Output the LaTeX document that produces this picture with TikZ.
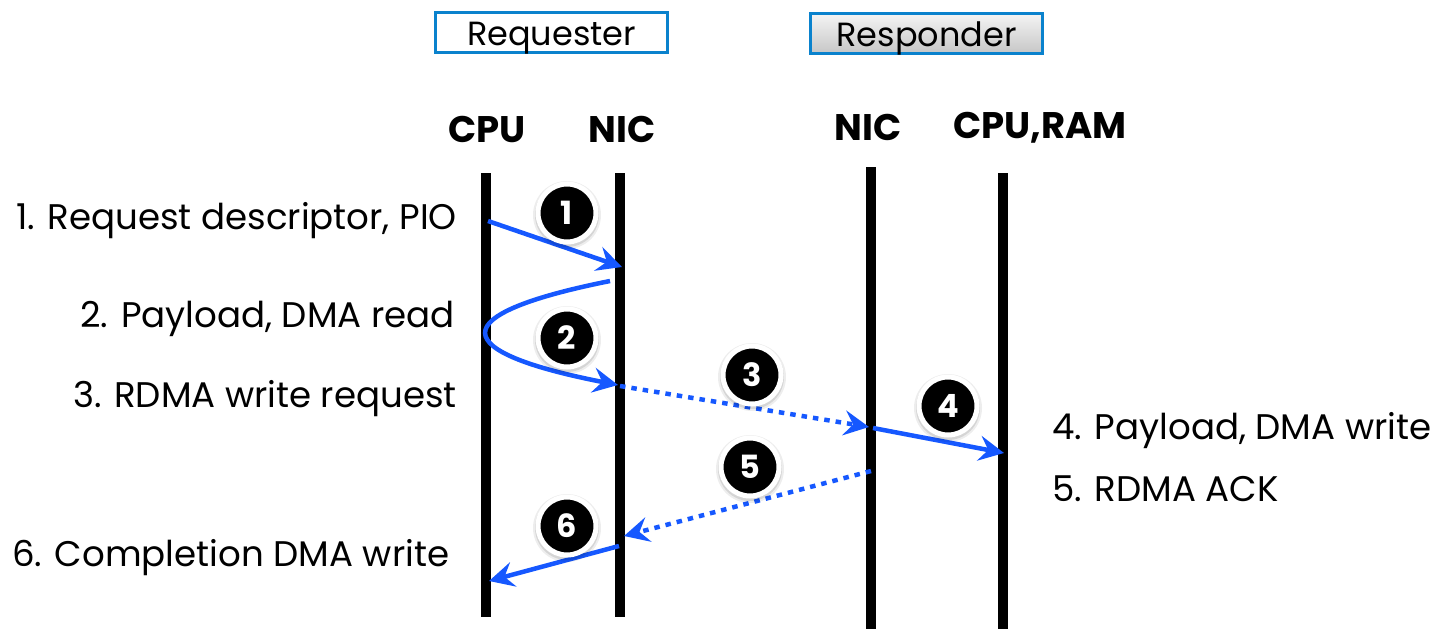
\documentclass[tikz,border=0pt]{standalone}
\usepackage{fontspec}
\setmainfont{Poppins}
\usetikzlibrary{arrows.meta}
\definecolor{flow}{RGB}{22,88,255}
\definecolor{frame}{RGB}{10,130,205}
\tikzset{
  lifeline/.style={line width=10pt},
  msg/.style={flow, line width=4.5pt, -{Stealth[length=25pt,width=25pt,inset=9pt]}},
  msgdot/.style={msg, dash pattern=on 5.5pt off 6pt},
  steplabel/.style={font=\fontsize{35.6}{40}\selectfont, inner sep=0pt},
  unitlabel/.style={font=\fontsize{37}{40}\selectfont\bfseries, inner sep=0pt, anchor=base},
  rolebox/.style={draw=frame, line width=3pt, minimum width=232pt, minimum height=40pt,
    font=\fontsize{33.5}{36}\selectfont, inner sep=0pt, text height=28pt, text depth=2pt},
  badge/.style={circle, fill=black, draw=white, line width=5pt, minimum size=58pt,
    text=white, font=\fontsize{32}{34}\selectfont\bfseries, inner sep=0pt},
}
\newcommand{\stepbadge}[3]{%
  \fill[black, opacity=0.10] (#1) ++(0,2) circle (32);
  \fill[black, opacity=0.07] (#1) ++(0,2) circle (34);
  \node[badge] (#2) at (#1) {#3};}
\begin{document}
\begin{tikzpicture}[x=1pt, y=-1pt]
\useasboundingbox (0,0) rectangle (1439,629);

% role boxes
\node[rolebox] (req) at (551.5,32) {Requester};
\node[rolebox, top color=white!96!black, bottom color=black!22] (resp) at (926.5,33) {Responder};

% unit headings
\node[unitlabel] (hcpu) at (487,142) {CPU};
\node[unitlabel] (hnic) at (622,142) {NIC};
\node[unitlabel] (hrnic) at (868,140) {NIC};
\node[unitlabel] (hram) at (1040,138) {CPU,RAM};

% lifelines
\coordinate (cpuT) at (486,173); \coordinate (cpuB) at (486,617);
\coordinate (nicT) at (620,173); \coordinate (nicB) at (620,617);
\coordinate (rnicT) at (871,167); \coordinate (rnicB) at (871,629);
\coordinate (ramT) at (1003,173); \coordinate (ramB) at (1003,629);
\draw[lifeline] (cpuT) -- (cpuB);
\draw[lifeline] (nicT) -- (nicB);
\draw[lifeline] (rnicT) -- (rnicB);
\draw[lifeline] (ramT) -- (ramB);

% message end points
\coordinate (m1s) at (488,221);  \coordinate (m1e) at (622,267);
\coordinate (m2s) at (610,281);  \coordinate (m2e) at (618,385);
\coordinate (m3s) at (620,386);  \coordinate (m3e) at (869,427);
\coordinate (m4s) at (873,428);  \coordinate (m4e) at (1004,453);
\coordinate (m5s) at (871,471);  \coordinate (m5e) at (624,536);
\coordinate (m6s) at (619,546);  \coordinate (m6e) at (489,581);

% messages
\draw[msg] (m1s) -- (m1e);
\draw[msg] (m2s) .. controls (440,315) and (449,352) .. (m2e);
\draw[msgdot] (m3s) -- (m3e);
\draw[msg] (m4s) -- (m4e);
\draw[msgdot] (m5s) -- (m5e);
\draw[msg] (m6s) -- (m6e);

% step badges
\stepbadge{567,213}{b1}{1}
\stepbadge{567,338}{b2}{2}
\stepbadge{752,375}{b3}{3}
\stepbadge{948,406}{b4}{4}
\stepbadge{750,467}{b5}{5}
\stepbadge{567,526}{b6}{6}

% step descriptions
\node[steplabel, anchor=base east] (t1) at (457,229) {1. Request descriptor, PIO};
\node[steplabel, anchor=base east] (t2) at (455,327) {2. Payload, DMA read};
\node[steplabel, anchor=base east] (t3) at (457,407) {3. RDMA write request};
\node[steplabel, anchor=base west] (t4) at (1052,439) {4. Payload, DMA write};
\node[steplabel, anchor=base west] (t5) at (1052,501) {5. RDMA ACK};
\node[steplabel, anchor=base west] (t6) at (12,566) {6. Completion DMA write};
\end{tikzpicture}
\end{document}
